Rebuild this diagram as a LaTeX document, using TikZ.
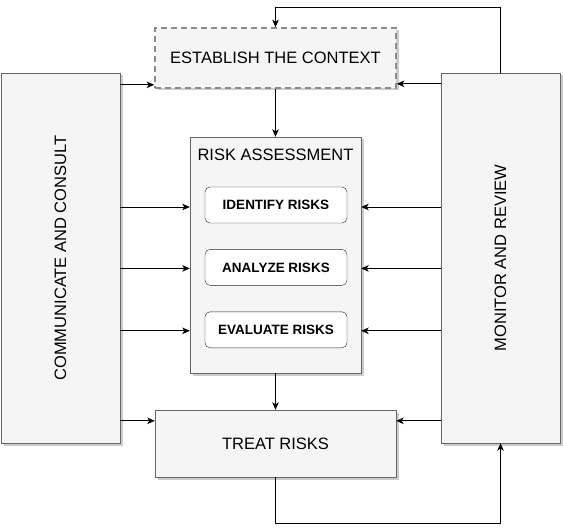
\documentclass[tikz,border=0pt]{standalone}
\usepackage{fontspec}
\setmainfont{Liberation Sans}
\usetikzlibrary{positioning}
\usetikzlibrary{arrows.meta}
\usetikzlibrary{shadows}
\definecolor{boxfill}{HTML}{F5F5F5}
\definecolor{boxline}{HTML}{666666}
\definecolor{dashline}{HTML}{8C8C8C}

\tikzset{
  block/.style={draw=boxline, fill=boxfill, inner sep=0pt, align=center,
    font=\fontsize{16.5}{19}\selectfont,
    drop shadow={shadow xshift=2.5pt, shadow yshift=-2.5pt, fill=black!40}},
  stepbox/.style={draw=black!85, fill=white, rounded corners=5pt, inner sep=0pt,
    minimum width=142pt, minimum height=36pt,
    font=\fontsize{13.5}{16}\selectfont\bfseries},
  arr/.style={-{Stealth[length=7.5pt, width=6.5pt, inset=2pt]}, thick}
}

\begin{document}
\begin{tikzpicture}[x=1pt, y=-1pt]

  \useasboundingbox (0,0) rectangle (563,532);

  % Define nodes
  \node[block, minimum width=241pt, minimum height=60pt, draw=dashline, line width=1.6pt,
    dash pattern=on 6pt off 4pt] (est) at (275.5,58) {ESTABLISH THE CONTEXT};
  \node[block, minimum width=119pt, minimum height=370pt] (comm) at (60.5,258) {};
  \node[rotate=90, font=\fontsize{16.5}{19}\selectfont] (commtext) at (comm.center) {COMMUNICATE AND CONSULT};
  \node[block, minimum width=119pt, minimum height=370pt] (mon) at (500.5,258) {};
  \node[rotate=90, font=\fontsize{16.5}{19}\selectfont] (montext) at (mon.center) {MONITOR AND REVIEW};
  \node[block, minimum width=171pt, minimum height=236pt] (ra) at (275.5,255) {};
  \node[font=\fontsize{16.5}{19}\selectfont, below=9pt of ra.north] (ratitle) {RISK ASSESSMENT};
  \node[stepbox] (ident) at (276,205) {IDENTIFY RISKS};
  \node[stepbox, below=26pt of ident] (anal) {ANALYZE RISKS};
  \node[stepbox, below=26pt of anal] (eval) {EVALUATE RISKS};
  \node[block, minimum width=241pt, minimum height=67pt] (treat) at (275.5,443.5) {TREAT RISKS};

  \coordinate (loop top) at (275.5,7);
  \coordinate (loop bot) at (500.5,523);

  % Connect the nodes
  \draw[arr] ([yshift=4pt]est.south west -| comm.east) -- ([yshift=4pt]est.south west);
  \draw[arr] ([yshift=5pt]est.south east -| mon.west) -- ([yshift=5pt]est.south east);
  \draw[arr] (est.south) -- (ra.north);
  \draw[arr] (ra.south) -- (treat.north);
  \foreach \s/\dy in {ident/-2, anal/-1, eval/-1} {
    \draw[arr] ([yshift=\dy pt]\s.west -| comm.east) -- ([yshift=\dy pt]\s.west -| ra.west);
    \draw[arr] ([yshift=\dy pt]\s.east -| mon.west) -- ([yshift=\dy pt]\s.east -| ra.east);
  }
  \draw[arr] ([yshift=-11pt]treat.north west -| comm.east) -- ([yshift=-11pt]treat.north west);
  \draw[arr] ([yshift=-11pt]treat.north east -| mon.west) -- ([yshift=-11pt]treat.north east);
  \draw[arr] (mon.north) |- (loop top) -- (est.north);
  \draw[arr] (treat.south) |- (loop bot) -- (mon.south);

\end{tikzpicture}
\end{document}
